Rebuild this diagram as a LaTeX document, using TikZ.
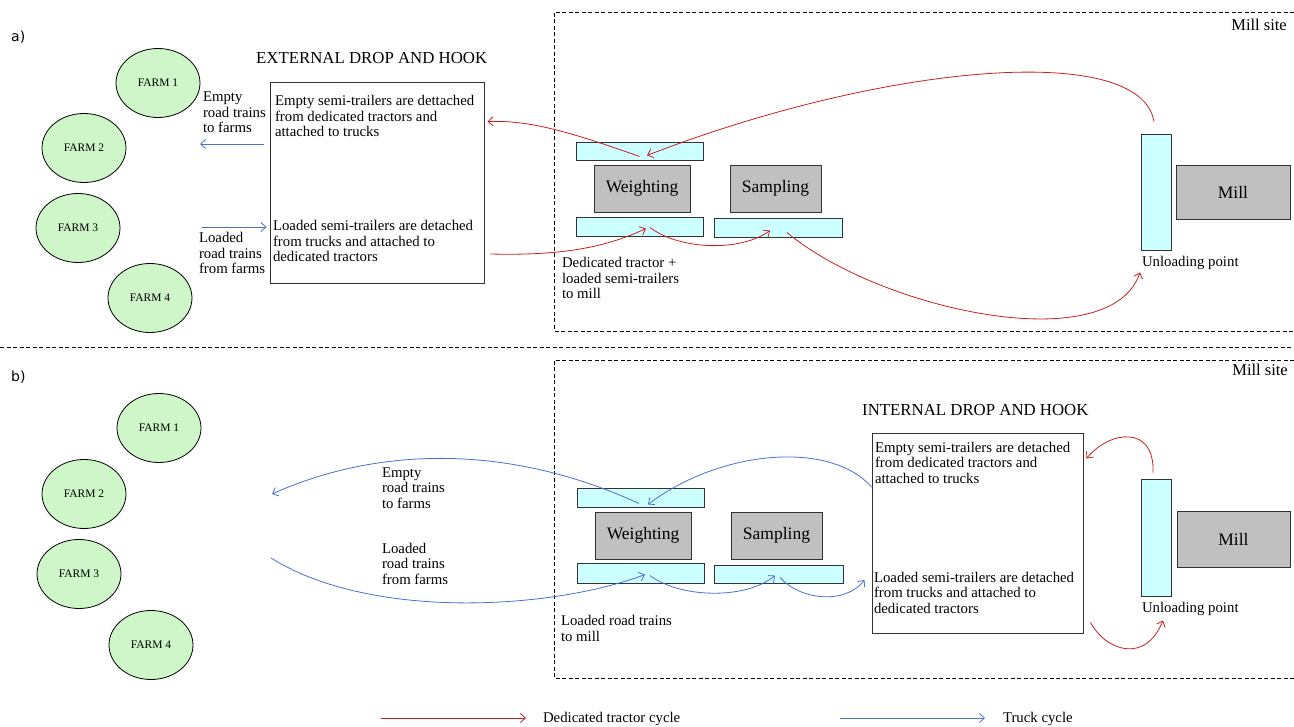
\documentclass[tikz,border=0pt]{standalone}
\usepackage{fontspec}
\setmainfont{Liberation Serif}
\newfontfamily\panelfont{DejaVu Sans}
\usetikzlibrary{arrows.meta,calc,shapes.geometric}

\definecolor{tractorred}{RGB}{200,32,32}
\definecolor{truckblue}{RGB}{72,112,208}
\definecolor{farmgreen}{RGB}{206,246,200}
\definecolor{barcyan}{RGB}{204,255,255}
\definecolor{unitgray}{RGB}{192,192,192}
\definecolor{edgegray}{RGB}{50,50,50}

\tikzset{
  % multi-line texts are placed by the baseline of their last line
  txt/.style={font=\fontsize{14.8}{15.5}\selectfont, inner sep=0pt, outer sep=0pt, align=left},
  title/.style={font=\fontsize{16.8}{18}\selectfont, inner sep=0pt},
  sitelabel/.style={font=\fontsize{16.5}{18}\selectfont, inner sep=0pt},
  farm/.style={ellipse, draw=black, line width=0.8pt, fill=farmgreen,
    minimum width=84pt, minimum height=69pt, inner sep=0pt,
    font=\fontsize{11.5}{12}\selectfont},
  bar/.style={draw=edgegray, line width=0.9pt, fill=barcyan, inner sep=0pt},
  unit/.style={draw=edgegray, line width=0.9pt, fill=unitgray, inner sep=0pt,
    font=\fontsize{17.5}{19}\selectfont},
  dhbox/.style={draw=edgegray, line width=0.9pt, fill=white, inner sep=0pt},
  site/.style={line width=0.8pt, dash pattern=on 4pt off 2.5pt},
  tractor/.style={draw=tractorred, line width=0.8pt, -{Straight Barb[length=5pt,width=9pt]}},
  truck/.style={draw=truckblue, line width=0.8pt, -{Straight Barb[length=5pt,width=9pt]}},
}

\begin{document}
\begin{tikzpicture}[x=1pt,y=-1pt]
\useasboundingbox (0,0) rectangle (1294,727);

% ---------- separators and mill-site frames ----------
\draw[site] (0,347) -- (1294,347);
\draw[site] (1294,12) -- (554,12) -- (554,331) -- (1294,331);
\draw[site] (1294,360) -- (554,360) -- (554,678) -- (1294,678);

% ================= a) external drop and hook =================
\node[anchor=base west, inner sep=0pt, font=\panelfont\fontsize{14}{16}\selectfont] (labA) at (11,42) {a)};
\node[sitelabel, anchor=base east] (siteA) at (1287,31) {Mill site};

\node[farm] (fa1) at (158,83)  {FARM 1};
\node[farm] (fa2) at (84,148)  {FARM 2};
\node[farm] (fa3) at (78,228)  {FARM 3};
\node[farm] (fa4) at (150,298) {FARM 4};

\node[title, anchor=base west] (extT) at (256,64) {EXTERNAL DROP AND HOOK};
\node[dhbox, minimum width=214pt, minimum height=201pt] (boxA) at (377,182.5) {};
\node[txt, anchor=base west] (boxAt) at (275,137) {Empty semi-trailers are dettached\\from dedicated tractors and\\attached to trucks};
\node[txt, anchor=base west] (boxAb) at (273,262) {Loaded semi-trailers are detached\\from trucks and attached to\\dedicated tractors};

\node[txt, anchor=base west] (emptyA) at (203,133) {Empty\\road trains\\to farms};
\node[txt, anchor=base west] (loadA) at (199,274) {Loaded\\road trains\\from farms};

\node[bar, minimum width=127pt, minimum height=18pt] (wtopA) at (639.5,151) {};
\node[unit, minimum width=96pt, minimum height=47pt] (weighA) at (642,188.5) {Weighting};
\node[bar, minimum width=127pt, minimum height=19pt] (wbotA) at (639.5,226.5) {};
\node[unit, minimum width=91pt, minimum height=47pt] (sampA) at (775.5,188.5) {Sampling};
\node[bar, minimum width=128pt, minimum height=19pt] (sbotA) at (778,227.5) {};
\node[txt, anchor=base west] (dedA) at (562,299) {Dedicated tractor +\\loaded semi-trailers\\to mill};

\node[bar, minimum width=30pt, minimum height=116pt] (unlA) at (1156,192) {};
\node[unit, minimum width=114pt, minimum height=54pt] (millA) at (1233,192) {Mill};
\node[txt, anchor=base west] (unlAt) at (1142,267) {Unloading point};

% truck flows at the farm gate
\coordinate (toFarmsA) at (200,144);
\coordinate (fromFarmsA) at (202,227);
\draw[truck] ($(boxA.west)+(-6,-38.5)$) -- (toFarmsA);
\draw[truck] (fromFarmsA) -- ($(boxA.west)+(-3,44.5)$);

% dedicated tractor cycle
\draw[tractor] ($(wtopA.south)+(0,-4)$) .. controls (570,132) and (530,120) .. ($(boxA.north east)+(3,40)$);
\draw[tractor] ($(unlA.north)+(-2,-12)$) .. controls (1140,40) and (880,65) .. ($(wtopA.south)+(7.5,-5)$);
\draw[tractor] ($(boxA.east)+(6,71.5)$) .. controls (570,256) and (610,245) .. ($(wbotA.north)+(6.5,12)$);
\draw[tractor] ($(wbotA.north)+(10.5,11)$) .. controls (680,250) and (740,252) .. ($(sbotA.north)+(-8,13)$);
\draw[tractor] ($(sbotA.north)+(9,15)$) .. controls (880,310) and (1110,360) .. ($(unlA.south)+(-16,22)$);

% ================= b) internal drop and hook =================
\node[anchor=base west, inner sep=0pt, font=\panelfont\fontsize{14}{16}\selectfont] (labB) at (11,382) {b)};
\node[sitelabel, anchor=base east] (siteB) at (1288,376) {Mill site};

\node[farm] (fb1) at (159,428) {FARM 1};
\node[farm] (fb2) at (84,494)  {FARM 2};
\node[farm] (fb3) at (79,574)  {FARM 3};
\node[farm] (fb4) at (151,645) {FARM 4};

\node[txt, anchor=base west] (emptyB) at (382,508) {Empty\\road trains\\to farms};
\node[txt, anchor=base west] (loadB) at (382,584) {Loaded\\road trains\\from farms};

\node[bar, minimum width=127pt, minimum height=19pt] (wtopB) at (640.5,497.5) {};
\node[unit, minimum width=96pt, minimum height=47pt] (weighB) at (643,535.5) {Weighting};
\node[bar, minimum width=127pt, minimum height=20pt] (wbotB) at (640.5,573) {};
\node[unit, minimum width=91pt, minimum height=47pt] (sampB) at (776.5,535.5) {Sampling};
\node[bar, minimum width=129pt, minimum height=18pt] (sbotB) at (778.5,574) {};
\node[txt, anchor=base west] (ldB) at (561,641) {Loaded road trains\\to mill};

\node[title, anchor=base west] (intT) at (862,415) {INTERNAL DROP AND HOOK};
\node[dhbox, minimum width=211pt, minimum height=200pt] (boxB) at (977.5,533) {};
\node[txt, anchor=base west] (boxBt) at (875,483) {Empty semi-trailers are detached\\from dedicated tractors and\\attached to trucks};
\node[txt, anchor=base west] (boxBb) at (874,613) {Loaded semi-trailers are detached\\from trucks and attached to\\dedicated tractors};

\node[bar, minimum width=30pt, minimum height=117pt] (unlB) at (1156,537.5) {};
\node[unit, minimum width=113pt, minimum height=56pt] (millB) at (1233.5,539) {Mill};
\node[txt, anchor=base west] (unlBt) at (1142,612) {Unloading point};

% truck cycle
\coordinate (toFarmsB) at (272,494);
\coordinate (fromFarmsB) at (271,558);
\draw[truck] ($(boxB.west)+(0,-46)$) .. controls (830,440) and (720,450) .. ($(wtopB.south)+(7.5,-3)$);
\draw[truck] ($(wtopB.south)+(-1.5,-4)$) .. controls (500,440) and (370,450) .. (toFarmsB);
\draw[truck] (fromFarmsB) .. controls (370,620) and (550,610) .. ($(wbotB.north)+(4.5,12)$);
\draw[truck] ($(wbotB.north)+(9.5,13)$) .. controls (680,598) and (745,600) .. ($(sbotB.north)+(-3.5,11)$);
\draw[truck] ($(sbotB.north)+(1.5,13)$) .. controls (800,600) and (845,605) .. ($(boxB.west)+(-7,47)$);

% dedicated tractor cycle inside the mill
\draw[tractor] ($(unlB.north)+(-3,-6)$) .. controls (1155,425) and (1110,430) .. ($(boxB.north east)+(3,26)$);
\draw[tractor] ($(boxB.south east)+(7,-11)$) .. controls (1105,650) and (1145,665) .. ($(unlB.south)+(7,24)$);

% ================= legend =================
\coordinate (lr1) at (381,718);
\coordinate (lr2) at (526,718);
\coordinate (lb1) at (840,718);
\coordinate (lb2) at (985,718);
\draw[tractor] (lr1) -- (lr2);
\draw[truck] (lb1) -- (lb2);
\node[txt, anchor=base west] (legR) at (543,722) {Dedicated tractor cycle};
\node[txt, anchor=base west] (legB) at (1003,722) {Truck cycle};
\end{tikzpicture}
\end{document}
